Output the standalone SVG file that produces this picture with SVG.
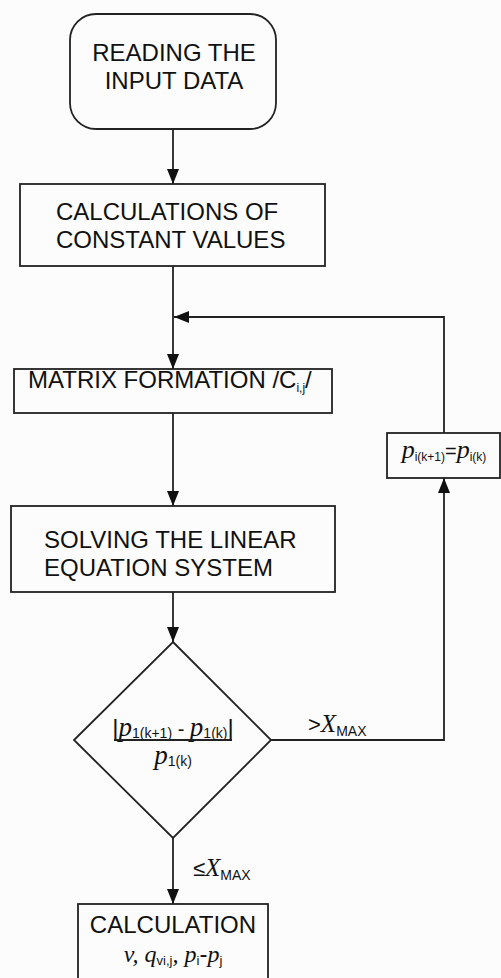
<svg xmlns="http://www.w3.org/2000/svg" width="501" height="978" viewBox="0 0 501 978">
<style>
.box{fill:none;stroke:#222;stroke-width:1.8}
.ln{fill:none;stroke:#222;stroke-width:1.8}
.t{font-family:"Liberation Sans",Arial,sans-serif;font-size:24px;fill:#111}
.m{font-family:"Liberation Serif","Times New Roman",serif;font-style:italic;fill:#111}
.s{font-family:"Liberation Sans",Arial,sans-serif;font-style:normal;fill:#111}
</style>
<defs>
<marker id="ah" viewBox="0 0 15 12" refX="15" refY="6" markerWidth="15" markerHeight="12" markerUnits="userSpaceOnUse" orient="auto">
<path d="M0,0 L15,6 L0,12 Z" fill="#111"/>
</marker>
</defs>
<rect width="501" height="978" fill="#fcfcfc"/>
<g id="connectors">
<line class="ln" x1="173" y1="129" x2="173" y2="184" marker-end="url(#ah)"/>
<line class="ln" x1="173" y1="266" x2="173" y2="369" marker-end="url(#ah)"/>
<polyline class="ln" points="444,433 444,317 174,317" marker-end="url(#ah)"/>
<line class="ln" x1="173" y1="413" x2="173" y2="506" marker-end="url(#ah)"/>
<line class="ln" x1="173" y1="592" x2="173" y2="642" marker-end="url(#ah)"/>
<polyline class="ln" points="271,740 444,740 444,478" marker-end="url(#ah)"/>
<line class="ln" x1="173" y1="838" x2="173" y2="904" marker-end="url(#ah)"/>
<text class="m" x="308" y="732" font-size="25"><tspan class="s" font-size="22">&gt;</tspan>X<tspan class="s" font-size="14" dy="4">MAX</tspan></text>
<text class="m" x="193" y="876" font-size="25"><tspan class="s" font-size="22">≤</tspan>X<tspan class="s" font-size="14" dy="4">MAX</tspan></text>
</g>
<g id="start">
<rect class="box" x="70" y="14" width="206" height="115" rx="26" ry="26"/>
<text class="t" x="174" y="61" text-anchor="middle">READING THE</text>
<text class="t" x="174" y="89" text-anchor="middle">INPUT DATA</text>
</g>
<g id="constants">
<rect class="box" x="20" y="184" width="305" height="82"/>
<text class="t" x="56" y="220">CALCULATIONS OF</text>
<text class="t" x="56" y="248">CONSTANT VALUES</text>
</g>
<g id="matrix">
<rect class="box" x="14" y="369" width="318" height="44"/>
<text class="t" x="28" y="388" font-size="23">MATRIX FORMATION /C<tspan font-size="12" dy="4">i,j</tspan><tspan dy="-4">/</tspan></text>
</g>
<g id="solve">
<rect class="box" x="11" y="506" width="324" height="86"/>
<text class="t" x="44" y="548">SOLVING THE LINEAR</text>
<text class="t" x="44" y="576">EQUATION SYSTEM</text>
</g>
<g id="decision">
<polygon class="box" points="173,642 271,740 173,838 74,740"/>
<text class="m" x="173" y="736" font-size="27" text-anchor="middle"><tspan class="s" font-size="24">|</tspan>p<tspan class="s" font-size="14" dy="2">1(k+1)</tspan><tspan class="s" font-size="20" dy="-2"> - </tspan>p<tspan class="s" font-size="14" dy="2">1(k)</tspan><tspan class="s" font-size="24" dy="-2">|</tspan></text>
<line class="ln" x1="114" y1="740" x2="232" y2="740"/>
<text class="m" x="173" y="764" font-size="27" text-anchor="middle">p<tspan class="s" font-size="14" dy="2">1(k)</tspan></text>
</g>
<g id="update">
<rect class="box" x="387" y="433" width="113" height="45"/>
<text class="m" x="444" y="458" font-size="26" text-anchor="middle">p<tspan class="s" font-size="12" dy="3">i(k+1)</tspan><tspan class="s" font-size="20" dy="-3">=</tspan>p<tspan class="s" font-size="12" dy="3">i(k)</tspan></text>
</g>
<g id="result">
<rect class="box" x="78" y="904" width="190" height="80"/>
<text class="t" x="173" y="933" text-anchor="middle">CALCULATION</text>
<text class="m" x="173" y="962" font-size="24" text-anchor="middle">v, q<tspan class="s" font-size="13" dy="3">vi,j</tspan><tspan dy="-3">, p</tspan><tspan class="s" font-size="13" dy="3">i</tspan><tspan class="s" dy="-3">-</tspan>p<tspan class="s" font-size="13" dy="3">j</tspan></text>
</g>
</svg>
